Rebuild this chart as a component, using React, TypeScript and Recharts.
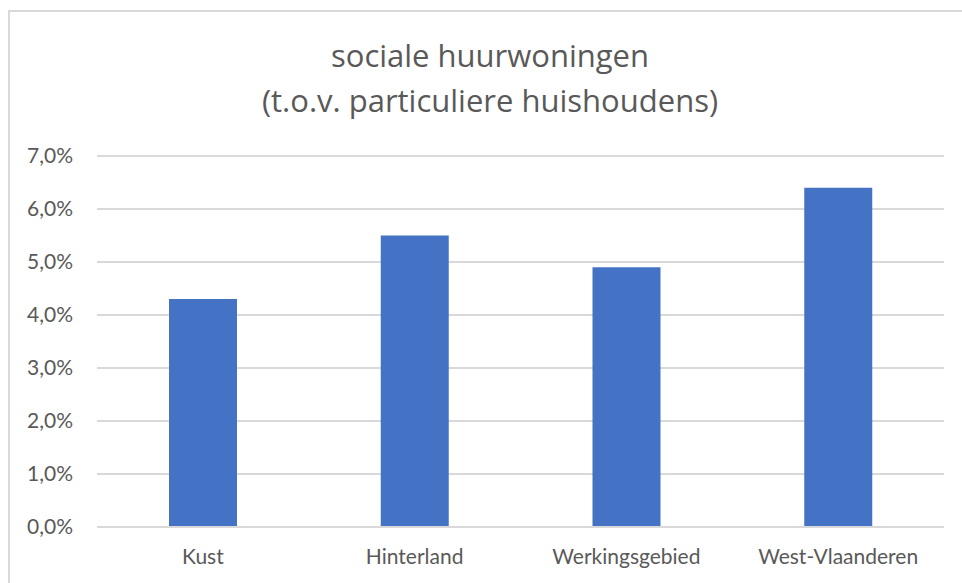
import React from "react";
import { BarChart, Bar, XAxis, YAxis, CartesianGrid } from "recharts";

const categories = ["Kust", "Hinterland", "Werkingsgebied", "West-Vlaanderen"];
const values = [4.3, 5.5, 4.9, 6.4];
const yTicks = [0, 1, 2, 3, 4, 5, 6, 7];
const titleLines = ["sociale huurwoningen", "(t.o.v. particuliere huishoudens)"];

const data = categories.map((c, i) => ({ name: c, value: values[i] }));
const fmt = (v: number) => `${v.toFixed(1).replace(".", ",")}%`;
const FONT = "Lato, 'Open Sans', sans-serif";
const TITLE_FONT = "'Open Sans', Lato, sans-serif";
const TXT = "#595959";

export default function App() {
  return (
    <div style={{ position: "absolute", left: 0, top: 0, width: 962, height: 583, overflow: "hidden", background: "#fff" }}>
      <div style={{ position: "absolute", left: 8, top: 10, width: 1000, height: 700, borderLeft: "2px solid #d9d9d9", borderTop: "2px solid #d9d9d9" }} />
      <div style={{ position: "absolute", left: 0, top: 0, width: 980, textAlign: "center", fontFamily: TITLE_FONT, color: TXT, fontSize: 31 }}>
        <div style={{ position: "absolute", top: 36, width: "100%", lineHeight: "38px" }}>{titleLines[0]}</div>
        <div style={{ position: "absolute", top: 81, width: "100%", lineHeight: "38px" }}>{titleLines[1]}</div>
      </div>
      <div style={{ position: "absolute", left: 0, top: 0 }}>
        <BarChart width={962} height={583} data={data} margin={{ top: 156, right: 18, bottom: 26, left: 37 }}>
          <CartesianGrid vertical={false} stroke="#d9d9d9" strokeWidth={2} />
          <XAxis
            dataKey="name"
            height={30}
            tickLine={false}
            axisLine={{ stroke: "#d9d9d9", strokeWidth: 2 }}
            tickMargin={16}
            tick={{ fill: TXT, fontSize: 21, fontFamily: FONT }}
          />
          <YAxis
            width={60}
            domain={[0, 7]}
            ticks={yTicks}
            tickFormatter={fmt}
            tickLine={false}
            axisLine={false}
            tickMargin={18}
            tick={{ fill: TXT, fontSize: 21, fontFamily: FONT }}
          />
          <Bar dataKey="value" fill="#4472C4" barSize={68} isAnimationActive={false} />
        </BarChart>
      </div>
    </div>
  );
}
